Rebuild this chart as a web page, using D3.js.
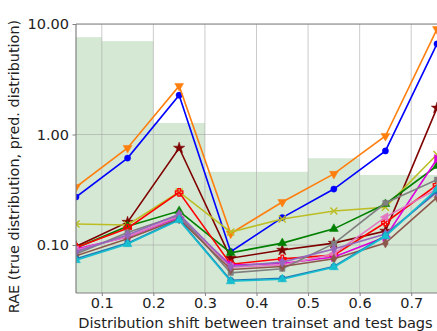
<!DOCTYPE html>
<html>
<head>
<meta charset="utf-8">
<script src="https://cdn.jsdelivr.net/npm/d3@7/dist/d3.min.js"></script>
<style>
  html, body { margin: 0; padding: 0; background: #fff; }
  svg { display: block; font-family: "DejaVu Sans", sans-serif; }
</style>
</head>
<body>
<svg id="chart" width="437" height="331"></svg>
<script>
// x positions of the test bag groups (distribution shift)
const shifts = [0.05, 0.15, 0.25, 0.35, 0.45, 0.55, 0.65, 0.75];

// background histogram (bin edges + heights, drawn in the same log axis)
const binEdges = [0.0, 0.1, 0.2, 0.3, 0.4, 0.5, 0.6, 0.7, 0.8];
const binHeights = [7.6, 7.0, 1.27, 0.46, 0.46, 0.61, 0.43, 0.43];

const xTicks = [0.1, 0.2, 0.3, 0.4, 0.5, 0.6, 0.7];
const yTicks = [0.1, 1, 10];

// one array per method
const seriesBlue    = [0.272, 0.612, 2.27, 0.087, 0.177, 0.321, 0.71, 6.6];
const seriesOrange  = [0.335, 0.755, 2.75, 0.127, 0.245, 0.44, 0.97, 9.0];
const seriesMaroon  = [0.097, 0.161, 0.755, 0.076, 0.090, 0.104, 0.134, 1.74];
const seriesOlive   = [0.155, 0.152, 0.302, 0.131, 0.172, 0.203, 0.22, 0.66];
const seriesGreen   = [0.094, 0.148, 0.203, 0.085, 0.104, 0.140, 0.235, 0.52];
const seriesRed     = [0.095, 0.142, 0.300, 0.067, 0.075, 0.081, 0.160, 0.35];
const seriesMagenta = [0.092, 0.118, 0.178, 0.066, 0.068, 0.078, 0.118, 0.60];
const seriesPink    = [0.090, 0.119, 0.182, 0.063, 0.066, 0.083, 0.179, 0.32];
const seriesGray    = [0.083, 0.130, 0.186, 0.056, 0.061, 0.103, 0.240, 0.39];
const seriesBrown   = [0.080, 0.114, 0.172, 0.060, 0.064, 0.075, 0.104, 0.27];
const seriesPurple  = [0.087, 0.123, 0.190, 0.064, 0.070, 0.092, 0.126, 0.30];
const seriesTab     = [0.075, 0.104, 0.170, 0.048, 0.050, 0.064, 0.122, 0.31];
const seriesCyan    = [0.073, 0.102, 0.168, 0.047, 0.049, 0.063, 0.120, 0.32];

const series = [
  { values: seriesBlue,    color: '#0000ff', mark: 'circle' },
  { values: seriesOrange,  color: '#ff7f0e', mark: 'tridown' },
  { values: seriesMaroon,  color: '#7f0000', mark: 'star' },
  { values: seriesOlive,   color: '#bcbd22', mark: 'x' },
  { values: seriesGreen,   color: '#008000', mark: 'triup' },
  { values: seriesRed,     color: '#ff0000', mark: 'plus' },
  { values: seriesMagenta, color: '#dd00dd', mark: 'triright' },
  { values: seriesPink,    color: '#e377c2', mark: 'trileft' },
  { values: seriesGray,    color: '#7f7f7f', mark: 'square' },
  { values: seriesBrown,   color: '#8c564b', mark: 'diamond' },
  { values: seriesPurple,  color: '#9467bd', mark: 'diamond' },
  { values: seriesTab,     color: '#1f77b4', mark: 'circle' },
  { values: seriesCyan,    color: '#17becf', mark: 'triup' },
];

const W = 437, H = 331;
const m = { left: 76, top: 24, right: 0, bottom: 38 };
const iw = W - m.left - m.right, ih = H - m.top - m.bottom;

const svg = d3.select('#chart');
const x = d3.scaleLinear().domain([0.05, 0.75]).range([m.left, m.left + iw]);
const y = d3.scaleLog().domain([0.0368, 10]).range([m.top + ih, m.top]);

svg.append('defs').append('clipPath').attr('id', 'plotClip')
  .append('rect').attr('x', m.left).attr('y', m.top).attr('width', iw).attr('height', ih);

const plot = svg.append('g').attr('clip-path', 'url(#plotClip)');

// histogram bars
plot.append('g').selectAll('rect').data(binHeights).join('rect')
  .attr('x', (d, i) => x(binEdges[i]))
  .attr('width', (d, i) => x(binEdges[i + 1]) - x(binEdges[i]))
  .attr('y', (d) => y(d))
  .attr('height', (d) => y.range()[0] - y(d))
  .attr('fill', '#d5e8d4');

// grid
const grid = plot.append('g').attr('stroke', '#999').attr('stroke-opacity', 0.5).attr('stroke-width', 1);
grid.selectAll('.gx').data(xTicks).join('line')
  .attr('x1', (d) => x(d)).attr('x2', (d) => x(d)).attr('y1', m.top).attr('y2', m.top + ih);
grid.selectAll('.gy').data(yTicks).join('line')
  .attr('y1', (d) => y(d)).attr('y2', (d) => y(d)).attr('x1', m.left).attr('x2', m.left + iw);

// marker shapes
const tri = d3.symbol().type(d3.symbolTriangle).size(34);
const markPath = {
  circle: d3.symbol().type(d3.symbolCircle).size(30)(),
  triup: tri(),
  tridown: tri(), triright: tri(), trileft: tri(),
  star: d3.symbol().type(d3.symbolStar).size(40)(),
  x: d3.symbol().type(d3.symbolX).size(34)(),
  plus: d3.symbol().type(d3.symbolCross).size(30)(),
  square: d3.symbol().type(d3.symbolSquare).size(28)(),
  diamond: d3.symbol().type(d3.symbolDiamond).size(28)(),
};
const markRot = { tridown: 180, triright: 90, trileft: -90 };

const line = d3.line().x((d, i) => x(shifts[i])).y((d) => y(d));
series.forEach((s) => {
  const g = plot.append('g');
  g.append('path').datum(s.values).attr('d', line)
    .attr('fill', 'none').attr('stroke', s.color).attr('stroke-width', 1.6);
  const stroked = s.mark === 'x' || s.mark === 'plus';
  g.selectAll('path.mk').data(s.values).join('path').attr('class', 'mk')
    .attr('d', markPath[s.mark])
    .attr('transform', (d, i) => `translate(${x(shifts[i])},${y(d)}) rotate(${markRot[s.mark] || 0})`)
    .attr('fill', stroked ? 'none' : s.color)
    .attr('stroke', s.color).attr('stroke-width', stroked ? 1.4 : 0.5);
});

// spines
const spine = svg.append('g').attr('stroke', '#808080').attr('stroke-width', 1.2).attr('fill', 'none');
spine.append('line').attr('x1', m.left).attr('x2', m.left).attr('y1', m.top).attr('y2', m.top + ih);
spine.append('line').attr('x1', m.left).attr('x2', W).attr('y1', m.top).attr('y2', m.top);
spine.append('line').attr('x1', m.left).attr('x2', W).attr('y1', m.top + ih).attr('y2', m.top + ih);

// axes
const xAxis = svg.append('g').attr('transform', `translate(0,${m.top + ih})`)
  .call(d3.axisBottom(x).tickValues(xTicks).tickFormat(d3.format('.1f')).tickSize(3).tickPadding(2));
const yAxis = svg.append('g').attr('transform', `translate(${m.left},0)`)
  .call(d3.axisLeft(y).tickValues(yTicks).tickFormat(d3.format('.2f')).tickSize(3.5).tickPadding(3.5));
[xAxis, yAxis].forEach((a) => {
  a.select('.domain').remove();
  a.selectAll('.tick line').attr('stroke', '#808080');
  a.selectAll('text').attr('font-size', 14.5).attr('fill', '#222').attr('font-family', 'DejaVu Sans');
});

svg.append('text').attr('x', m.left + iw / 2 - 1).attr('y', 327.5).attr('text-anchor', 'middle')
  .attr('font-size', 14.6).attr('fill', '#222').text('Distribution shift between trainset and test bags');
svg.append('text').attr('transform', `translate(18.5,${m.top + ih / 2 + 8}) rotate(-90)`)
  .attr('text-anchor', 'middle').attr('font-size', 14.4).attr('fill', '#222')
  .text('RAE (true distribution, pred. distribution)');
</script>
</body>
</html>
